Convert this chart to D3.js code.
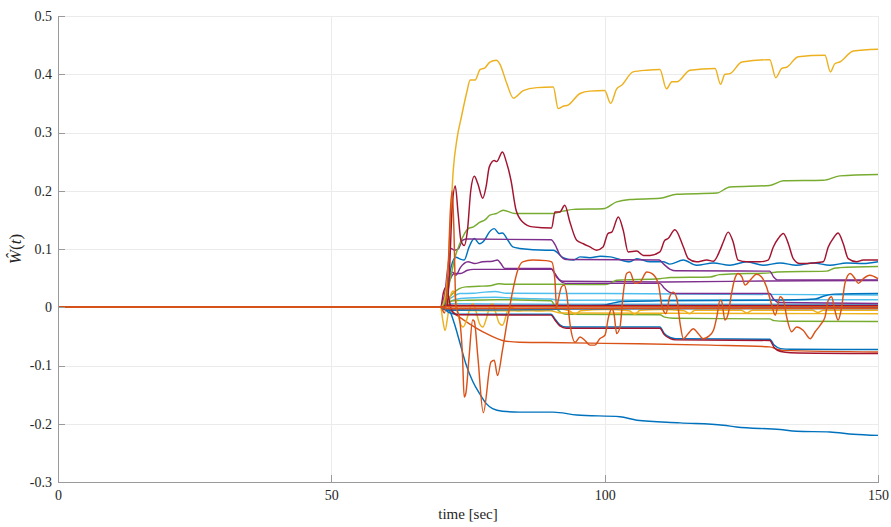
<!DOCTYPE html>
<html>
<head>
<meta charset="utf-8">
<script src="https://cdn.jsdelivr.net/npm/d3@7"></script>
<style>
  body { margin: 0; background: #fff; }
  svg { display: block; }
  text { font-family: "Liberation Serif", "DejaVu Serif", serif; }
</style>
</head>
<body>
<svg id="chart" width="891" height="527"></svg>
<script>
// ---- axis ticks ----
const xTicks = [0, 50, 100, 150];
const xTickLabels = ["0", "50", "100", "150"];
const yTicks = [-0.3, -0.2, -0.1, 0, 0.1, 0.2, 0.3, 0.4, 0.5];
const yTickLabels = ["-0.3", "-0.2", "-0.1", "0", "0.1", "0.2", "0.3", "0.4", "0.5"];

// ---- weight estimates, [time (s), value] ----
const wYellowHigh = [[0,0],[70,0],[70.6,0.01],[71.3,0.06],[71.8,0.15],[72.3,0.235],[73.0,0.29],[73.8,0.327],[74.8,0.37],[75.4,0.39],[76.3,0.39],[77.2,0.408],[78.1,0.411],[79.0,0.421],[80.2,0.424],[80.8,0.418],[82.1,0.384],[83.3,0.359],[85.1,0.372],[87.6,0.377],[90.6,0.378],[91.5,0.341],[92.4,0.345],[93.3,0.347],[95.5,0.367],[97.3,0.371],[100.0,0.372],[101.1,0.35],[102.2,0.375],[103.1,0.381],[105.2,0.404],[107.7,0.407],[110.1,0.408],[111.3,0.375],[112.3,0.387],[113.2,0.387],[115.6,0.407],[120.2,0.41],[121.2,0.383],[122.0,0.4],[122.9,0.401],[125.1,0.421],[130.2,0.425],[131.3,0.394],[132.4,0.41],[133.3,0.412],[135.4,0.43],[140.3,0.4325],[141.3,0.404],[142.1,0.418],[143.0,0.421],[145.5,0.44],[150,0.443]];

const wGreenHigh = [[0,0],[70,0],[70.8,0.01],[71.8,0.05],[72.6,0.085],[73.5,0.109],[75.05,0.135],[76.0,0.138],[77.2,0.146],[78.1,0.15],[79.0,0.158],[80.2,0.161],[81.45,0.1665],[83.6,0.161],[90.6,0.161],[92.4,0.165],[94.3,0.168],[99.7,0.169],[102.2,0.181],[104.6,0.185],[110.1,0.187],[113.2,0.194],[120.5,0.196],[122.9,0.2065],[130.2,0.209],[132.7,0.217],[140.0,0.218],[143.0,0.2255],[150,0.228]];

const wRedSwing = [[0,0],[70,0],[71.2,0.005],[71.6,0.06],[72.1,0.17],[72.67,0.208],[73.2,0.16],[73.7,0.115],[74.3,0.106],[74.9,0.132],[75.5,0.2],[76.15,0.225],[76.8,0.212],[77.7,0.187],[78.3,0.2065],[78.9,0.241],[79.8,0.252],[80.25,0.25],[81.3,0.2665],[82.0,0.25],[82.86,0.218],[83.8,0.1665],[85.0,0.1465],[86.8,0.138],[90.3,0.136],[90.9,0.1635],[91.8,0.1635],[92.7,0.175],[93.65,0.146],[94.88,0.115],[96.1,0.109],[97.3,0.1035],[98.5,0.098],[99.7,0.1035],[100.6,0.1265],[101.3,0.129],[102.5,0.155],[103.4,0.132],[104.3,0.095],[105.85,0.0965],[107.1,0.089],[108.3,0.089],[110.1,0.095],[111.0,0.115],[111.6,0.118],[112.85,0.133],[114.4,0.1035],[115.3,0.0835],[116.8,0.078],[118.7,0.081],[119.9,0.079],[121.1,0.098],[121.7,0.112],[122.6,0.129],[123.5,0.112],[124.4,0.081],[126.0,0.078],[128.4,0.078],[129.9,0.081],[130.85,0.1035],[131.75,0.118],[132.7,0.1265],[133.6,0.109],[134.5,0.0835],[135.7,0.075],[138.2,0.076],[140.0,0.078],[140.9,0.1035],[141.8,0.118],[142.7,0.1275],[143.65,0.109],[144.55,0.0835],[146.1,0.078],[147.3,0.081],[150,0.081]];

const wBlueHigh = [[0,0],[70,0],[70.5,-0.004],[71.0,0.015],[71.9,0.069],[72.8,0.086],[73.5,0.083],[74.3,0.081],[75.2,0.1035],[76.15,0.118],[77.1,0.109],[78.0,0.115],[78.9,0.129],[79.8,0.135],[80.7,0.1265],[81.3,0.1275],[82.3,0.115],[83.2,0.1035],[84.4,0.101],[89.3,0.098],[90.6,0.098],[92.4,0.085],[94.3,0.081],[95.5,0.0865],[97.3,0.085],[99.2,0.0875],[101.0,0.0865],[104.6,0.078],[105.9,0.0835],[108.3,0.078],[110.7,0.078],[111.9,0.074],[114.4,0.081],[116.8,0.072],[119.9,0.076],[122.9,0.072],[126.0,0.078],[129.0,0.072],[132.1,0.076],[135.1,0.072],[138.2,0.076],[141.2,0.072],[144.3,0.076],[147.3,0.075],[150,0.078]];

const wPurpleA = [[0,0],[70,0],[70.6,0.01],[71.2,0.06],[71.9,0.101],[72.5,0.098],[73.2,0.1],[74.0,0.115],[74.9,0.117],[90.2,0.116],[90.9,0.108],[91.8,0.09],[93.0,0.082],[110.0,0.081],[110.8,0.074],[112.0,0.065],[113.0,0.0625],[130.2,0.062],[130.9,0.052],[131.6,0.047],[150,0.047]];

const wPurpleB = [[0,0],[70,0],[70.7,0.02],[71.5,0.05],[72.2,0.06],[72.8,0.055],[73.6,0.068],[75.0,0.078],[76.2,0.075],[77.7,0.078],[79.5,0.079],[80.4,0.081],[81.0,0.075],[81.7,0.0665],[90.2,0.0665],[90.9,0.058],[91.8,0.046],[92.8,0.041],[110.1,0.041],[110.8,0.034],[111.8,0.026],[113.0,0.0235],[130.2,0.0235],[130.9,0.014],[131.8,0.008],[150,0.0065]];

const wPurpleC = [[0,0],[70,0],[70.8,0.02],[71.6,0.045],[72.5,0.058],[73.6,0.058],[74.9,0.0635],[76.0,0.065],[90.3,0.065],[91.2,0.052],[92.4,0.0445],[110.0,0.0435],[130.0,0.045],[150,0.046]];

const wGreenMid = [[0,0],[70,0],[70.8,0.008],[72.2,0.0235],[73.4,0.032],[74.6,0.035],[77.0,0.036],[79.0,0.037],[80.7,0.0405],[81.9,0.0395],[90.0,0.0395],[100.0,0.039],[101.0,0.041],[102.2,0.0465],[103.5,0.047],[110.1,0.049],[112.0,0.051],[119.3,0.052],[121.0,0.056],[123.0,0.057],[130.2,0.059],[131.5,0.0605],[140.6,0.062],[142.0,0.067],[143.0,0.068],[150,0.07]];

const wCyanA = [[0,0],[70,0],[71.0,0.01],[72.2,0.018],[73.5,0.0235],[76.0,0.024],[78.0,0.026],[80.0,0.027],[82.0,0.024],[100.0,0.0235],[150,0.021]];

const wCyanB = [[0,0],[70,0],[71.0,0.006],[72.5,0.013],[75.0,0.016],[80.0,0.017],[85.0,0.015],[90.0,0.014],[92.0,0.012],[150,0.013]];

const wBlueRise = [[0,0],[70,0],[70.8,0.004],[72.0,0.002],[90.0,0.002],[99.5,0.003],[101.0,0.006],[103.0,0.01],[110.0,0.011],[130.0,0.012],[138.5,0.014],[140.0,0.019],[142.0,0.0225],[150,0.0235]];

const wOrangeDecay = [[0,0],[70,0],[71.0,-0.002],[71.6,-0.004],[73.0,-0.014],[75.2,-0.028],[78.3,-0.045],[81.3,-0.057],[84.4,-0.06],[89.3,-0.0605],[100.0,-0.062],[119.3,-0.065],[130.2,-0.068],[131.5,-0.072],[132.5,-0.074],[150,-0.0767]];

const wBlueLow = [[0,0],[70,0],[71.0,-0.003],[71.6,-0.006],[72.5,-0.028],[73.4,-0.057],[74.6,-0.097],[75.9,-0.128],[77.1,-0.148],[78.3,-0.165],[79.5,-0.174],[81.3,-0.1785],[84.4,-0.18],[90.6,-0.18],[94.9,-0.185],[102.8,-0.188],[105.9,-0.194],[113.8,-0.1985],[121.7,-0.2025],[124.1,-0.2055],[132.1,-0.21],[135.1,-0.213],[141.2,-0.214],[145.5,-0.218],[150,-0.22]];

const wBlueStep = [[0,0],[70,0],[70.6,-0.003],[71.5,-0.009],[73.0,-0.012],[90.2,-0.012],[90.9,-0.02],[91.8,-0.03],[93.0,-0.034],[110.1,-0.034],[110.9,-0.045],[112.0,-0.052],[113.0,-0.054],[130.2,-0.055],[131.0,-0.065],[132.2,-0.071],[134.0,-0.072],[150,-0.0725]];

const wRedStep = [[0,0],[70,0],[70.5,0.025],[71.0,0.035],[71.4,0.02],[72.0,-0.005],[73.0,-0.013],[90.2,-0.0135],[90.9,-0.022],[91.8,-0.032],[93.0,-0.036],[110.1,-0.036],[110.9,-0.047],[112.0,-0.054],[113.0,-0.056],[130.2,-0.057],[131.0,-0.069],[132.2,-0.076],[134.0,-0.078],[150,-0.0795]];

const wGreenLow = [[0,0],[70,0],[70.8,0.005],[72.2,0.011],[75.0,0.012],[80.0,0.013],[90.2,0.011],[91.0,0.0],[92.0,-0.009],[93.0,-0.012],[110.1,-0.013],[111.0,-0.017],[112.5,-0.019],[130.2,-0.02],[131.0,-0.023],[133.0,-0.024],[150,-0.0245]];

const wYellowWave = [[0,0],[70,0],[70.35,-0.02],[70.8,-0.04],[71.3,-0.015],[71.8,0.02],[72.3,0.028],[72.9,0.005],[73.5,-0.025],[74.1,-0.034],[74.8,-0.02],[75.4,0.0],[75.9,0.006],[76.5,-0.008],[77.1,-0.028],[77.7,-0.034],[78.4,-0.018],[79.0,0.002],[79.5,0.006],[80.1,-0.01],[80.7,-0.027],[81.3,-0.031],[82.3,-0.005],[83.0,0.0],[84.0,-0.006],[86.0,-0.004],[88.0,-0.006],[90.0,-0.004],[91.0,-0.002],[93.5,-0.006],[94.6,-0.012],[95.6,-0.006],[100.0,-0.004],[104.5,-0.006],[105.5,-0.012],[106.5,-0.005],[110.0,-0.004],[114.5,-0.006],[115.5,-0.011],[116.5,-0.005],[125.0,-0.005],[126.0,-0.01],[127.0,-0.005],[138.0,-0.005],[139.0,-0.009],[140.0,-0.005],[150,-0.005]];

const wYellowFlat = [[0,0],[70,0],[71.0,-0.004],[80.0,-0.006],[90.0,-0.006],[92.0,-0.01],[150,-0.011]];

const wRedFlat = [[0,0],[70,0],[71.0,0.004],[73.0,0.003],[150,0.003]];
const wPurpleFlat = [[0,0],[70,0],[71.0,-0.003],[90.0,-0.002],[150,-0.001]];
const wBlueFlat = [[0,0],[70,0],[71.0,-0.005],[90.0,-0.004],[92.0,-0.003],[150,-0.002]];
const wCyanFlat = [[0,0],[70,0],[71.0,0.006],[90.0,0.005],[150,0.005]];
const wOrangeFlat = [[0,0],[70,0],[71.0,-0.002],[150,-0.002]];

const wOrangeSwing = [[0,0],[70,0],[70.7,-0.01],[71.3,0.05],[71.8,0.17],[72.1,0.2],[72.4,0.14],[72.8,0.0],[73.4,-0.017],[74.0,-0.085],[74.3,-0.154],[74.6,-0.148],[75.2,-0.085],[75.85,-0.022],[76.15,-0.024],[76.8,-0.085],[77.8,-0.181],[79.2,-0.094],[79.8,-0.091],[80.4,-0.117],[81.3,-0.074],[82.3,-0.017],[83.2,0.029],[84.1,0.0635],[85.0,0.078],[86.8,0.081],[89.3,0.08],[90.3,0.078],[90.9,0.046],[91.2,0.0],[91.5,0.012],[92.1,0.035],[92.6,0.038],[93.05,0.0235],[93.65,-0.028],[94.6,-0.06],[95.5,-0.051],[96.4,-0.057],[97.3,-0.065],[98.2,-0.065],[99.1,-0.054],[100.05,-0.048],[100.7,-0.017],[101.3,-0.002],[101.7,-0.011],[102.2,-0.045],[102.8,-0.034],[103.4,0.0235],[104.0,0.058],[104.6,0.0605],[105.55,0.041],[106.5,0.0435],[107.7,0.0605],[108.6,0.058],[109.8,0.041],[110.4,0.006],[111.2,-0.011],[111.9,0.018],[112.55,0.026],[113.2,0.015],[113.8,-0.028],[114.4,-0.054],[115.3,-0.045],[116.2,-0.037],[117.1,-0.045],[118.0,-0.054],[119.0,-0.05],[119.9,-0.0395],[120.5,-0.017],[121.1,0.012],[121.4,0.01],[122.0,-0.022],[122.6,-0.011],[123.2,0.0235],[123.8,0.049],[124.4,0.058],[125.1,0.052],[125.7,0.038],[126.6,0.0465],[127.8,0.0567],[128.7,0.052],[129.6,0.035],[130.5,0.006],[131.2,-0.0137],[132.1,0.018],[132.7,0.012],[133.3,-0.017],[134.2,-0.042],[135.1,-0.034],[136.3,-0.0395],[137.6,-0.054],[138.5,-0.042],[139.4,-0.031],[140.3,-0.017],[140.9,0.012],[141.5,0.018],[142.1,-0.005],[142.7,-0.022],[143.35,0.0],[143.95,0.041],[144.9,0.058],[145.8,0.049],[146.4,0.041],[147.3,0.049],[148.5,0.055],[150,0.049]];

const wOrangeZero = [[0,0],[70,0],[71.0,0.001],[150,0.001]];

// ---- line colours (default plotting order palette) ----
const palette = {
  blue: "#0072BD", orange: "#D95319", yellow: "#EDB120", purple: "#7E2F8E",
  green: "#77AC30", cyan: "#4DBEEE", red: "#A2142F"
};

// drawing order, bottom first
const seriesList = [
  { data: wBlueLow, color: palette.blue },
  { data: wOrangeDecay, color: palette.orange },
  { data: wCyanA, color: palette.cyan },
  { data: wCyanB, color: palette.cyan },
  { data: wCyanFlat, color: palette.cyan },
  { data: wGreenLow, color: palette.green },
  { data: wYellowFlat, color: palette.yellow },
  { data: wPurpleC, color: palette.purple },
  { data: wGreenMid, color: palette.green },
  { data: wBlueRise, color: palette.blue },
  { data: wYellowWave, color: palette.yellow },
  { data: wPurpleFlat, color: palette.purple },
  { data: wBlueFlat, color: palette.blue },
  { data: wRedFlat, color: palette.red },
  { data: wBlueStep, color: palette.blue },
  { data: wRedStep, color: palette.red },
  { data: wPurpleB, color: palette.purple },
  { data: wBlueHigh, color: palette.blue },
  { data: wPurpleA, color: palette.purple },
  { data: wGreenHigh, color: palette.green },
  { data: wYellowHigh, color: palette.yellow },
  { data: wRedSwing, color: palette.red },
  { data: wOrangeSwing, color: palette.orange },
  { data: wOrangeFlat, color: palette.orange },
  { data: wOrangeZero, color: palette.orange }
];

// ---- layout ----
const svg = d3.select("#chart");
const margin = { left: 58, right: 13, top: 16, bottom: 45 };
const width = 891, height = 527;
const plotW = width - margin.left - margin.right;
const plotH = height - margin.top - margin.bottom;

const x = d3.scaleLinear().domain([0, 150]).range([0, plotW]);
const y = d3.scaleLinear().domain([-0.3, 0.5]).range([plotH, 0]);

const g = svg.append("g").attr("transform", `translate(${margin.left},${margin.top})`);

// grid
const grid = g.append("g").attr("stroke", "#ebebeb").attr("stroke-width", 1).attr("shape-rendering", "crispEdges");
grid.selectAll("line.gx").data(xTicks.slice(1)).join("line")
  .attr("x1", d => Math.round(x(d)) + 0.5).attr("x2", d => Math.round(x(d)) + 0.5)
  .attr("y1", 0).attr("y2", plotH);
grid.selectAll("line.gy").data(yTicks.slice(1)).join("line")
  .attr("x1", 0).attr("x2", plotW)
  .attr("y1", d => Math.round(y(d)) + 0.5).attr("y2", d => Math.round(y(d)) + 0.5);

// lines
svg.append("defs").append("clipPath").attr("id", "plot-clip")
  .append("rect").attr("x", 0).attr("y", -2).attr("width", plotW + 1).attr("height", plotH + 4);

const line = d3.line()
  .x(d => x(d[0]))
  .y(d => y(d[1]))
  .curve(d3.curveMonotoneX);

g.append("g").attr("clip-path", "url(#plot-clip)")
  .selectAll("path").data(seriesList).join("path")
  .attr("d", s => line(s.data))
  .attr("fill", "none")
  .attr("stroke", s => s.color)
  .attr("stroke-width", 1.45)
  .attr("stroke-linejoin", "round");

// axes (ticks point inward)
const axisColor = "#9a9a9a";
const xAxis = d3.axisBottom(x).tickValues(xTicks)
  .tickFormat((d, i) => xTickLabels[i]).tickSize(-7).tickPadding(8);
const yAxis = d3.axisLeft(y).tickValues(yTicks)
  .tickFormat((d, i) => yTickLabels[i]).tickSize(-7).tickPadding(6);

const gx = g.append("g").attr("transform", `translate(0,${plotH})`).call(xAxis);
const gy = g.append("g").call(yAxis);
[gx, gy].forEach(a => {
  a.select(".domain").attr("stroke", axisColor).attr("shape-rendering", "crispEdges");
  a.selectAll(".tick line").attr("stroke", axisColor).attr("shape-rendering", "crispEdges");
  a.selectAll(".tick text").attr("fill", "#262626")
    .style("font-family", "'Liberation Serif', 'DejaVu Serif', serif").style("font-size", "14px");
});

// axis titles
svg.append("text")
  .attr("x", margin.left + plotW / 2).attr("y", 519)
  .attr("text-anchor", "middle").attr("fill", "#262626").style("font-size", "15px")
  .text("time [sec]");

const yl = svg.append("text")
  .attr("transform", `translate(21,${margin.top + y(0.1)}) rotate(-90)`)
  .attr("text-anchor", "middle").attr("fill", "#262626").style("font-size", "17px");
yl.append("tspan").style("font-style", "italic").text("Ŵ");
yl.append("tspan").text("(");
yl.append("tspan").style("font-style", "italic").text("t");
yl.append("tspan").text(")");
</script>
</body>
</html>
